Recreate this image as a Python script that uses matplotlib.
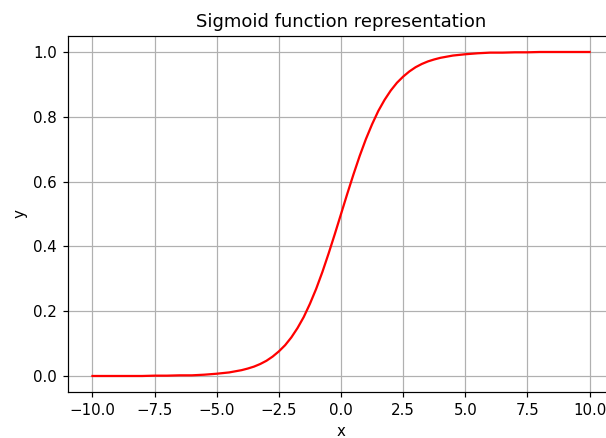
import matplotlib
matplotlib.use('Agg')
import matplotlib.pyplot as plt

# points (finer steps around the middle)
x = [-10.0, -9.5, -9.0, -8.5, -8.0, -7.5, -7.0, -6.5, -6.0, -5.5, -5.0, -4.5,
     -4.0, -3.75, -3.5, -3.25, -3.0, -2.75, -2.5, -2.25, -2.0, -1.75, -1.5, -1.25,
     -1.0, -0.75, -0.5, -0.25, 0.0, 0.25, 0.5, 0.75, 1.0, 1.25, 1.5, 1.75,
     2.0, 2.25, 2.5, 2.75, 3.0, 3.25, 3.5, 3.75, 4.0,
     4.5, 5.0, 5.5, 6.0, 6.5, 7.0, 7.5, 8.0, 8.5, 9.0, 9.5, 10.0]
y = [0.000, 0.000, 0.000, 0.000, 0.000, 0.001, 0.001, 0.002, 0.002, 0.004, 0.007, 0.011,
     0.018, 0.023, 0.029, 0.037, 0.047, 0.060, 0.076, 0.095, 0.119, 0.148, 0.182, 0.223,
     0.269, 0.321, 0.378, 0.438, 0.500, 0.562, 0.622, 0.679, 0.731, 0.777, 0.818, 0.852,
     0.881, 0.905, 0.924, 0.940, 0.953, 0.963, 0.971, 0.977, 0.982,
     0.989, 0.993, 0.996, 0.998, 0.998, 0.999, 0.999, 1.000, 1.000, 1.000, 1.000, 1.000]

fig = plt.figure(figsize=(606 / 108, 438 / 108), dpi=108)
ax = fig.add_axes([0.1116, 0.1046, 0.9023, 0.8137])
ax.plot(x, y, color='red')
ax.set_title('Sigmoid function representation')
ax.set_xlabel('x')
ax.set_ylabel('y')
ax.grid(True)
fig.savefig('out.png', dpi=108)
